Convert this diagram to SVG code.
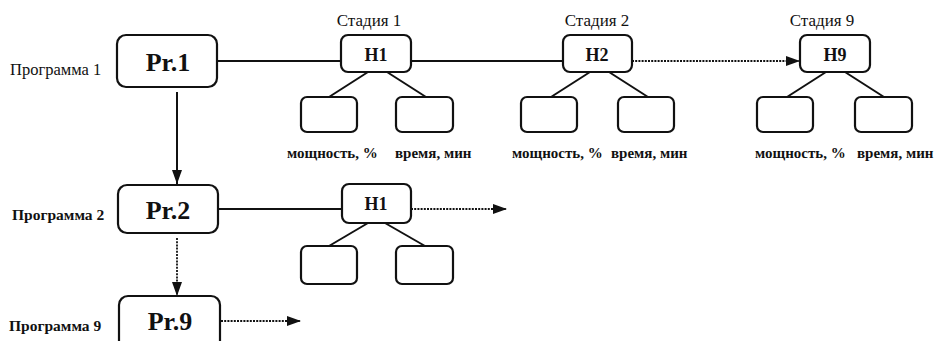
<svg xmlns="http://www.w3.org/2000/svg" width="947" height="341" viewBox="0 0 947 341">
<style>
.box{fill:#fff;stroke:#111;stroke-width:2.2}
.ln{stroke:#111;stroke-width:2;fill:none}
.dot{stroke:#111;stroke-width:1.8;fill:none;stroke-dasharray:2 1.2}
.pr{font-family:"Liberation Serif",serif;font-weight:bold;font-size:26px;text-anchor:middle;fill:#111}
.h{font-family:"Liberation Serif",serif;font-weight:bold;font-size:18px;text-anchor:middle;fill:#111}
.st{font-family:"Liberation Serif",serif;font-size:17px;text-anchor:middle;fill:#111}
.lab{font-family:"Liberation Serif",serif;font-weight:bold;font-size:15px;fill:#111}
.pg{font-family:"Liberation Serif",serif;font-size:16.5px;fill:#111}
.pgb{font-family:"Liberation Serif",serif;font-size:15.5px;font-weight:bold;fill:#111}
</style>
<defs>
<marker id="ar" viewBox="0 0 14 10" refX="14" refY="5" markerWidth="14" markerHeight="10" markerUnits="userSpaceOnUse" orient="auto">
<path d="M0,0 L14,5 L0,10 Z" fill="#111"/>
</marker>
</defs>
<g id="connectors">
<line class="ln" x1="217" y1="61" x2="341" y2="61"/>
<line class="ln" x1="411" y1="61" x2="563" y2="61"/>
<line class="dot" x1="632" y1="61" x2="800" y2="61" marker-end="url(#ar)"/>
<line class="ln" x1="368" y1="72" x2="329" y2="97"/>
<line class="ln" x1="387" y1="72" x2="426" y2="97"/>
<line class="ln" x1="590" y1="72" x2="551" y2="97"/>
<line class="ln" x1="609" y1="72" x2="648" y2="97"/>
<line class="ln" x1="826" y1="72" x2="787" y2="97"/>
<line class="ln" x1="845" y1="72" x2="884" y2="97"/>
<line class="ln" x1="177" y1="92" x2="177" y2="184" marker-end="url(#ar)"/>
<line class="ln" x1="218" y1="209" x2="342" y2="209"/>
<line class="dot" x1="411" y1="209" x2="507" y2="209" marker-end="url(#ar)"/>
<line class="ln" x1="368" y1="223" x2="329" y2="246"/>
<line class="ln" x1="385" y1="223" x2="425" y2="246"/>
<line class="dot" x1="177" y1="238" x2="177" y2="296" marker-end="url(#ar)"/>
<line class="dot" x1="221" y1="321" x2="301" y2="321" marker-end="url(#ar)"/>
</g>
<g id="pr1"><rect class="box" x="117" y="35" width="100" height="52" rx="9"/><text class="pr" x="168" y="71">Pr.1</text></g>
<g id="pr2"><rect class="box" x="118" y="185" width="100" height="48" rx="9"/><text class="pr" x="168" y="219">Pr.2</text></g>
<g id="pr9"><rect class="box" x="119" y="296" width="101" height="60" rx="9"/><text class="pr" x="170" y="330">Pr.9</text></g>
<g id="labels-programs">
<text class="pg" x="10" y="75">Программа 1</text>
<text class="pgb" x="12" y="220">Программа 2</text>
<text class="pgb" x="9" y="331">Программа 9</text>
</g>
<g id="h1"><text class="st" x="369" y="26">Стадия 1</text><rect class="box" x="341" y="35" width="70" height="37" rx="7"/><text class="h" x="376" y="61">H1</text></g>
<g id="h1-c1"><rect class="box" x="301" y="97" width="56" height="35" rx="6"/><text class="lab" x="287" y="158">мощность, %</text></g>
<g id="h1-c2"><rect class="box" x="396" y="97" width="57" height="35" rx="6"/><text class="lab" x="395" y="158">время, мин</text></g>
<g id="h2"><text class="st" x="597" y="26">Стадия 2</text><rect class="box" x="563" y="35" width="69" height="37" rx="7"/><text class="h" x="597" y="61">H2</text></g>
<g id="h2-c1"><rect class="box" x="521" y="97" width="56" height="35" rx="6"/><text class="lab" x="512" y="158">мощность, %</text></g>
<g id="h2-c2"><rect class="box" x="618" y="97" width="56" height="35" rx="6"/><text class="lab" x="611" y="158">время, мин</text></g>
<g id="h9"><text class="st" x="822" y="26">Стадия 9</text><rect class="box" x="800" y="35" width="70" height="37" rx="7"/><text class="h" x="835" y="61">H9</text></g>
<g id="h9-c1"><rect class="box" x="757" y="97" width="56" height="35" rx="6"/><text class="lab" x="755" y="158">мощность, %</text></g>
<g id="h9-c2"><rect class="box" x="855" y="97" width="57" height="35" rx="6"/><text class="lab" x="857" y="158">время, мин</text></g>
<g id="h1b"><rect class="box" x="342" y="184" width="69" height="39" rx="7"/><text class="h" x="376" y="210">H1</text></g>
<g id="h1b-c1"><rect class="box" x="301" y="246" width="56" height="38" rx="6"/></g>
<g id="h1b-c2"><rect class="box" x="396" y="246" width="57" height="38" rx="6"/></g>
</svg>
